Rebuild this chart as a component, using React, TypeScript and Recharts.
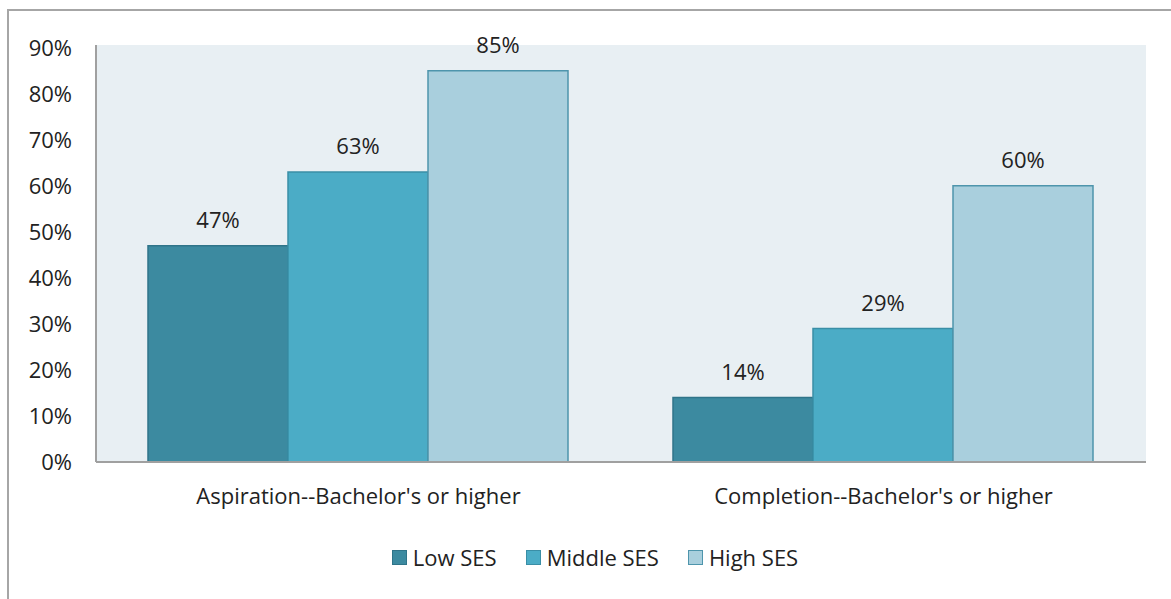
import { BarChart, Bar, XAxis, YAxis, CartesianGrid, Legend, LabelList } from "recharts";

const categories = ["Aspiration--Bachelor's or higher", "Completion--Bachelor's or higher"];
const lowSes = [47, 14];
const middleSes = [63, 29];
const highSes = [85, 60];
const yTicks = [0, 10, 20, 30, 40, 50, 60, 70, 80, 90];

const series = [
  { key: "low", name: "Low SES", values: lowSes, fill: "#3C8AA0", stroke: "#2F7489" },
  { key: "middle", name: "Middle SES", values: middleSes, fill: "#4BACC6", stroke: "#3A8EA6" },
  { key: "high", name: "High SES", values: highSes, fill: "#A9CFDD", stroke: "#4E95AC" },
];

const data = categories.map((name, i) => ({
  name,
  low: lowSes[i],
  middle: middleSes[i],
  high: highSes[i],
}));

const font = "'Open Sans', sans-serif";
const fontSize = 22;

function LegendContent() {
  return (
    <div style={{ height: 32, display: "flex", justifyContent: "center", alignItems: "center", gap: 29, fontFamily: font, fontSize, color: "#222" }}>
      {series.map((s) => (
        <div key={s.key} style={{ display: "flex", alignItems: "center", gap: 6 }}>
          <div style={{ width: 13, height: 13, background: s.fill, border: `1.5px solid ${s.stroke}` }} />
          <span>{s.name}</span>
        </div>
      ))}
    </div>
  );
}

export default function App() {
  return (
    <div style={{ position: "absolute", left: 0, top: 0, width: 1171, height: 599, overflow: "hidden", background: "#fff" }}>
      <div style={{ position: "absolute", left: 7, top: 9, width: 1300, height: 800, border: "2px solid #A6A6A6" }} />
      <div style={{ position: "absolute", left: 0, top: 0 }}>
        <BarChart
          width={1171}
          height={599}
          data={data}
          margin={{ top: 45, right: 25, bottom: 0, left: 0 }}
          barGap={0}
          barCategoryGap={52}
        >
          <CartesianGrid horizontal={false} vertical={false} fill="#E8EFF3" />
          <XAxis
            dataKey="name"
            axisLine={{ stroke: "#A0A0A0", strokeWidth: 2 }}
            tickLine={false}
            tickSize={0}
            tickMargin={26}
            height={105}
            tick={{ fill: "#222", fontSize, fontFamily: font }}
          />
          <YAxis
            width={96}
            domain={[0, 90.6]}
            ticks={yTicks}
            tickFormatter={(v) => `${v}%`}
            axisLine={{ stroke: "#A0A0A0", strokeWidth: 2 }}
            tickLine={false}
            tickSize={0}
            tickMargin={24}
            tick={{ fill: "#222", fontSize, fontFamily: font }}
          />
          <Legend
            verticalAlign="bottom"
            content={<LegendContent />}
            wrapperStyle={{ left: 0, width: 1190, bottom: 26 }}
          />
          {series.map((s) => (
            <Bar
              key={s.key}
              dataKey={s.key}
              name={s.name}
              fill={s.fill}
              stroke={s.stroke}
              strokeWidth={1.5}
              isAnimationActive={false}
            >
              <LabelList
                dataKey={s.key}
                position="top"
                offset={18}
                formatter={(v: number) => `${v}%`}
                style={{ fill: "#222", fontSize, fontFamily: font }}
              />
            </Bar>
          ))}
        </BarChart>
      </div>
    </div>
  );
}
